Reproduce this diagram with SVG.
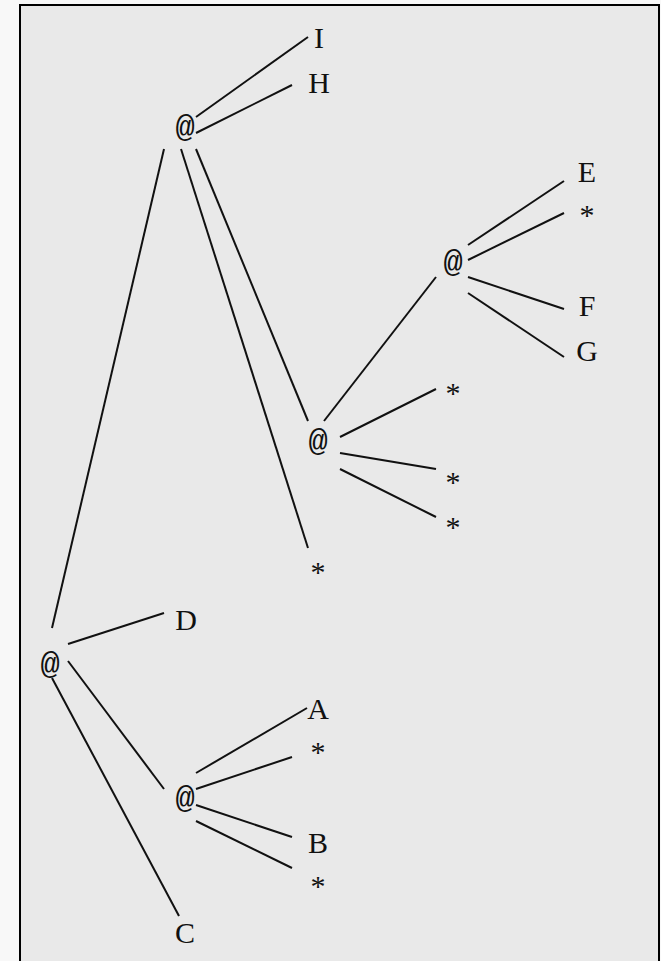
<svg xmlns="http://www.w3.org/2000/svg" width="661" height="961" viewBox="0 0 661 961">
<style>
.t{font-family:"Liberation Serif","DejaVu Serif",serif;font-size:30px;fill:#111;text-anchor:middle}
.at{font-family:"Liberation Mono","DejaVu Sans Mono",monospace;font-size:32px;fill:#111;text-anchor:middle}
.e line{stroke:#111;stroke-width:2;stroke-linecap:butt}
</style>
<rect x="0" y="0" width="661" height="961" fill="#f8f8f8"/>
<rect x="20" y="5" width="639" height="1000" fill="#e9e9e9" stroke="#000" stroke-width="2"/>
<g class="e" id="edges">
<line x1="196" y1="117" x2="308" y2="37"/>
<line x1="196" y1="133" x2="292" y2="85"/>
<line x1="164" y1="149" x2="52" y2="628"/>
<line x1="181" y1="149" x2="308" y2="548"/>
<line x1="196" y1="149" x2="308" y2="421"/>
<line x1="468" y1="245" x2="564" y2="181"/>
<line x1="468" y1="260" x2="564" y2="213"/>
<line x1="468" y1="277" x2="564" y2="309"/>
<line x1="468" y1="293" x2="564" y2="357"/>
<line x1="324" y1="421" x2="436" y2="277"/>
<line x1="340" y1="437" x2="436" y2="389"/>
<line x1="340" y1="453" x2="436" y2="469"/>
<line x1="340" y1="469" x2="436" y2="517"/>
<line x1="68" y1="644" x2="164" y2="613"/>
<line x1="68" y1="661" x2="164" y2="789"/>
<line x1="52" y1="678" x2="179" y2="916"/>
<line x1="196" y1="773" x2="307" y2="708"/>
<line x1="196" y1="789" x2="292" y2="757"/>
<line x1="196" y1="805" x2="292" y2="837"/>
<line x1="196" y1="821" x2="292" y2="868"/>
</g>
<g id="nI"><text class="t" x="319" y="48">I</text></g>
<g id="nH"><text class="t" x="319" y="93">H</text></g>
<g id="n1"><text class="at" x="185" y="137">@</text></g>
<g id="nE"><text class="t" x="587" y="182">E</text></g>
<g id="s1"><text class="t" x="587" y="225">*</text></g>
<g id="n2"><text class="at" x="453" y="272">@</text></g>
<g id="nF"><text class="t" x="587" y="316">F</text></g>
<g id="nG"><text class="t" x="587" y="361">G</text></g>
<g id="s2"><text class="t" x="453" y="403">*</text></g>
<g id="n3"><text class="at" x="318" y="451">@</text></g>
<g id="s3"><text class="t" x="453" y="492">*</text></g>
<g id="s4"><text class="t" x="453" y="537">*</text></g>
<g id="s5"><text class="t" x="318" y="582">*</text></g>
<g id="nD"><text class="t" x="186" y="630">D</text></g>
<g id="n0"><text class="at" x="50" y="674">@</text></g>
<g id="nA"><text class="t" x="318" y="719">A</text></g>
<g id="s6"><text class="t" x="318" y="762">*</text></g>
<g id="n4"><text class="at" x="185" y="808">@</text></g>
<g id="nB"><text class="t" x="318" y="853">B</text></g>
<g id="s7"><text class="t" x="318" y="896">*</text></g>
<g id="nC"><text class="t" x="185" y="943">C</text></g>
</svg>
